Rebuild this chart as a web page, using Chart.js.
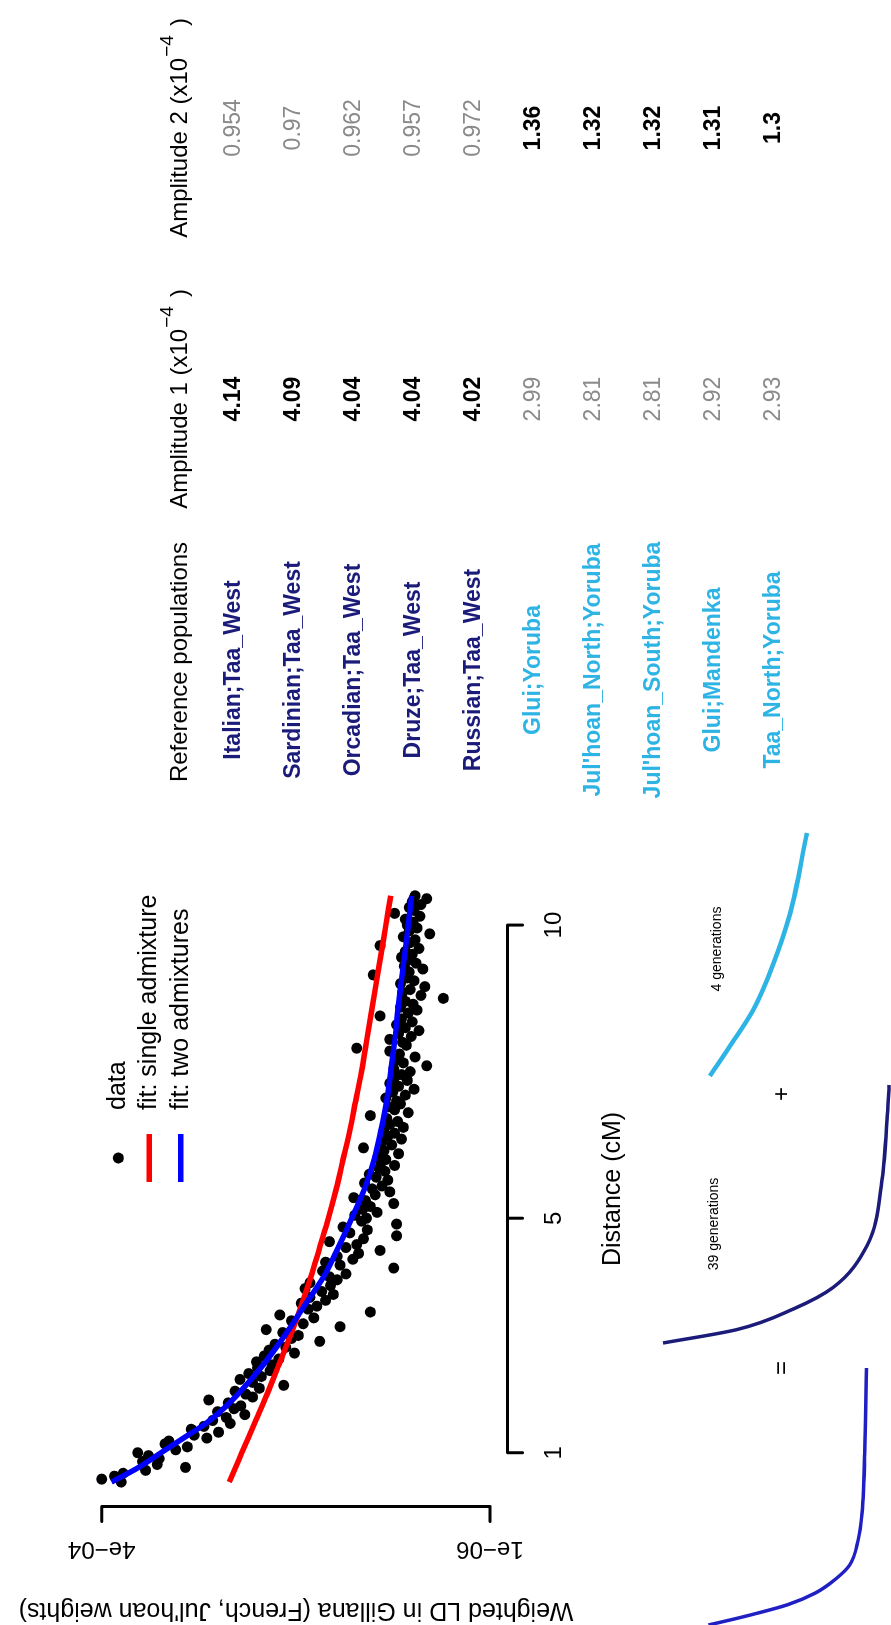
<!DOCTYPE html>
<html>
<head>
<meta charset="utf-8">
<title>Weighted LD decay</title>
<script src="https://cdn.jsdelivr.net/npm/chart.js@4.4.1/dist/chart.umd.min.js"></script>
<style>
  html, body { margin: 0; padding: 0; background: #fff; }
  body { width: 891px; height: 1625px; overflow: hidden; position: relative; }
  /* the figure is laid out landscape and turned a quarter turn */
  #figure {
    position: absolute; left: 0; top: 0;
    width: 1625px; height: 891px; overflow: hidden; background: #fff;
    transform-origin: 0 0; transform: translateY(1625px) rotate(-90deg);
  }
  #figure canvas { position: absolute; }
</style>
</head>
<body>
<div id="figure">
  <canvas id="ldChart" width="1625" height="891" style="left:0;top:0;width:1625px;height:891px"></canvas>
  <canvas id="sumCurve"></canvas>
  <canvas id="oldCurve"></canvas>
  <canvas id="recentCurve"></canvas>
</div>
<script>
// Weighted LD (x1e-4) against distance (cM)
const ldDist = [
  0.5, 0.55, 0.6, 0.65, 0.7, 0.75, 0.8, 0.85, 0.9, 0.95,
  1, 1.05, 1.1, 1.15, 1.2, 1.25, 1.3, 1.35, 1.4, 1.45,
  1.5, 1.55, 1.6, 1.65, 1.7, 1.75, 1.8, 1.85, 1.9, 1.95,
  2, 2.05, 2.1, 2.15, 2.2, 2.25, 2.3, 2.35, 2.4, 2.45,
  2.5, 2.55, 2.6, 2.65, 2.7, 2.75, 2.8, 2.85, 2.9, 2.95,
  3, 3.05, 3.1, 3.15, 3.2, 3.25, 3.3, 3.35, 3.4, 3.45,
  3.5, 3.55, 3.6, 3.65, 3.7, 3.75, 3.8, 3.85, 3.9, 3.95,
  4, 4.05, 4.1, 4.15, 4.2, 4.25, 4.3, 4.35, 4.4, 4.45,
  4.5, 4.55, 4.6, 4.65, 4.7, 4.75, 4.8, 4.85, 4.9, 4.95,
  5, 5.05, 5.1, 5.15, 5.2, 5.25, 5.3, 5.35, 5.4, 5.45,
  5.5, 5.55, 5.6, 5.65, 5.7, 5.75, 5.8, 5.85, 5.9, 5.95,
  6, 6.05, 6.1, 6.15, 6.2, 6.25, 6.3, 6.35, 6.4, 6.45,
  6.5, 6.55, 6.6, 6.65, 6.7, 6.75, 6.8, 6.85, 6.9, 6.95,
  7, 7.05, 7.1, 7.15, 7.2, 7.25, 7.3, 7.35, 7.4, 7.45,
  7.5, 7.55, 7.6, 7.65, 7.7, 7.75, 7.8, 7.85, 7.9, 7.95,
  8, 8.05, 8.1, 8.15, 8.2, 8.25, 8.3, 8.35, 8.4, 8.45,
  8.5, 8.55, 8.6, 8.65, 8.7, 8.75, 8.8, 8.85, 8.9, 8.95,
  9, 9.05, 9.1, 9.15, 9.2, 9.25, 9.3, 9.35, 9.4, 9.45,
  9.5, 9.55, 9.6, 9.65, 9.7, 9.75, 9.8, 9.85, 9.9, 9.95,
  10, 10.05, 10.1, 10.15, 10.2, 10.25, 10.3, 10.35, 10.4, 10.45,
  10.5
];
const ldValue = [
  3.80, 4.00, 3.87, 3.78, 3.55, 3.14, 3.43, 3.58, 3.41, 3.52,
  3.63, 3.24, 3.12, 3.35, 3.31, 2.92, 3.05, 2.80, 3.08, 2.95,
  2.68, 2.86, 2.72, 2.53, 2.81, 2.64, 2.57, 2.70, 2.90, 2.45,
  2.52, 2.63, 2.38, 2.13, 2.45, 2.58, 2.36, 2.49, 2.27, 2.40,
  2.25, 2.41, 2.18, 2.33, 2.02, 2.28, 2.11, 2.22, 1.76, 2.05,
  1.98, 2.14, 2.31, 1.55, 1.93, 2.05, 1.82, 2.17, 1.24, 1.88,
  1.79, 1.95, 1.70, 1.86, 1.62, 1.74, 1.91, 1.65, 1.86, 1.58,
  1.66, 1.49, 1.73, 1.00, 1.55, 1.70, 1.42, 1.58, 1.36, 1.14,
  1.49, 1.38, 1.66, 1.31, 0.97, 1.45, 1.27, 1.52, 0.97, 1.33,
  1.28, 1.40, 1.17, 1.32, 1.24, 1.00, 1.29, 1.41, 1.19, 1.04,
  1.22, 1.12, 1.30, 1.06, 1.18, 1.25, 1.09, 1.15, 0.99, 1.13,
  1.08, 1.16, 0.95, 1.10, 1.31, 1.02, 1.12, 0.92, 1.06, 0.99,
  1.10, 0.90, 1.04, 0.96, 1.07, 1.24, 0.85, 0.99, 1.05, 0.93,
  0.97, 1.08, 0.88, 1.01, 0.79, 0.95, 1.04, 0.86, 0.99, 0.92,
  0.83, 1.00, 0.66, 0.90, 0.97, 0.78, 0.94, 1.04, 1.38, 0.87,
  0.91, 1.04, 0.82, 0.95, 0.74, 0.88, 0.97, 0.81, 0.92, 1.14,
  0.85, 0.76, 0.93, 0.80, 0.88, 0.49, 0.72, 0.91, 0.83, 0.68,
  0.93, 0.79, 0.86, 1.21, 0.84, 0.70, 0.89, 0.77, 0.85, 0.92,
  0.81, 0.88, 0.74, 1.14, 0.83, 0.78, 0.90, 0.63, 0.84, 0.76,
  0.86, 0.80, 0.88, 0.73, 0.99, 0.79, 0.84, 0.72, 0.81, 0.66,
  0.78
];

// fitted curves
const singleDist = [0.5, 1, 1.5, 2, 2.5, 3, 3.5, 4, 4.5, 5, 5.5, 6, 6.5, 7, 7.5, 8, 8.5, 9, 9.5, 10, 10.5];
const singleFit = [2.69, 2.56, 2.43, 2.30, 2.18, 2.06, 1.95, 1.85, 1.76, 1.67, 1.59, 1.52, 1.45, 1.39, 1.33, 1.28, 1.23, 1.18, 1.13, 1.08, 1.03];
const twoDist = [0.5, 0.75, 1, 1.25, 1.5, 1.75, 2, 2.5, 3, 3.5, 4, 4.5, 5, 5.5, 6, 6.5, 7, 7.5, 8, 8.5, 9, 9.5, 10, 10.5];
const twoFit = [3.90, 3.62, 3.39, 3.16, 2.93, 2.75, 2.60, 2.34, 2.12, 1.92, 1.72, 1.57, 1.43, 1.30, 1.20, 1.13, 1.07, 1.03, 0.99, 0.96, 0.925, 0.885, 0.85, 0.815];

const distTicks = [1, 5, 10];
const ldTicks = [4, 0.01];
const ldTickLabels = ['4e\u221204', '1e\u221206'];

// table
const refPops = ['Italian;Taa_West', 'Sardinian;Taa_West', 'Orcadian;Taa_West', 'Druze;Taa_West', 'Russian;Taa_West',
  'Glui;Yoruba', "Jul'hoan_North;Yoruba", "Jul'hoan_South;Yoruba", 'Glui;Mandenka', 'Taa_North;Yoruba'];
const refGroup = ['west', 'west', 'west', 'west', 'west', 'south', 'south', 'south', 'south', 'south'];
const amp1 = [4.14, 4.09, 4.04, 4.04, 4.02, 2.99, 2.81, 2.81, 2.92, 2.93];
const amp2 = [0.954, 0.97, 0.962, 0.957, 0.972, 1.36, 1.32, 1.32, 1.31, 1.3];

// schematic curves (relative LD)
const oldDist = [0.5, 1.02, 1.83, 2.65, 4.27, 6.67, 9.14, 10.5];
const oldLD = [0.966, 0.653, 0.411, 0.246, 0.102, 0.040, 0.017, 0.008];
const recentDist = [0.5, 1.73, 3.2, 5.07, 7.17, 10.5];
const recentLD = [0.948, 0.843, 0.723, 0.618, 0.529, 0.440];
const sumDist = [0.5, 0.7, 0.93, 1.3, 1.75, 2.3, 2.83, 3.8, 4.84, 7.7, 10.5];
const sumLD = [0.95, 0.82, 0.68, 0.48, 0.32, 0.20, 0.12, 0.07, 0.047, 0.029, 0.021];

const FONT = '"Liberation Sans", Arial, Helvetica, sans-serif';
const NAVY = '#1b1b7a';
const CYAN = '#2db4e4';
const GREY = '#8a8a8a';

const pairs = (xs, ys) => xs.map((x, i) => ({ x: x, y: ys[i] }));

function drawText(ctx, s, x, y, font, color, align, rot) {
  ctx.save();
  ctx.font = font;
  ctx.fillStyle = color || '#000';
  ctx.textAlign = align || 'center';
  ctx.textBaseline = 'middle';
  ctx.translate(x, y);
  if (rot) ctx.rotate(rot);
  ctx.fillText(s, 0, 0);
  ctx.restore();
}

function headerWithPower(ctx, base, power, cx, cy) {
  const big = '24px ' + FONT, small = '19px ' + FONT;
  ctx.save();
  ctx.textBaseline = 'middle';
  ctx.textAlign = 'left';
  ctx.fillStyle = '#000';
  ctx.font = big;
  const w1 = ctx.measureText(base).width;
  const w3 = ctx.measureText(')').width;
  ctx.font = small;
  const w2 = ctx.measureText(power).width + 10;
  let x = cx - (w1 + w2 + w3) / 2;
  ctx.font = big; ctx.fillText(base, x, cy); x += w1;
  ctx.font = small; ctx.fillText(power, x + 1, cy - 12); x += w2;
  ctx.font = big; ctx.fillText(')', x, cy);
  ctx.restore();
}

const figureText = {
  id: 'figureText',
  afterDraw(chart) {
    const ctx = chart.ctx;
    const xs = chart.scales.x, ys = chart.scales.y, area = chart.chartArea;
    ctx.save();
    ctx.strokeStyle = '#000';
    ctx.lineWidth = 3;
    ctx.lineCap = 'round';

    // distance axis
    const axY = area.bottom + 2;
    ctx.beginPath();
    ctx.moveTo(xs.getPixelForValue(distTicks[0]), axY);
    ctx.lineTo(xs.getPixelForValue(distTicks[distTicks.length - 1]), axY);
    distTicks.forEach(t => {
      const px = xs.getPixelForValue(t);
      ctx.moveTo(px, axY);
      ctx.lineTo(px, axY + 15);
    });
    ctx.stroke();
    distTicks.forEach(t => drawText(ctx, String(t), xs.getPixelForValue(t), axY + 47, '24px ' + FONT));
    drawText(ctx, 'Distance (cM)', (area.left + area.right) / 2, 613, '25px ' + FONT);

    // LD axis
    const axX = area.left - 1;
    ctx.beginPath();
    ctx.moveTo(axX, ys.getPixelForValue(ldTicks[0]));
    ctx.lineTo(axX, ys.getPixelForValue(ldTicks[ldTicks.length - 1]));
    ldTicks.forEach(t => {
      const py = ys.getPixelForValue(t);
      ctx.moveTo(axX, py);
      ctx.lineTo(axX - 15, py);
    });
    ctx.stroke();
    ldTicks.forEach((t, i) => drawText(ctx, ldTickLabels[i], 76, ys.getPixelForValue(t), '24px ' + FONT, '#000', 'center', -Math.PI / 2));
    drawText(ctx, "Weighted LD in Gillana (French, Jul'hoan weights)", 15, (area.top + area.bottom) / 2,
      '25px ' + FONT, '#000', 'center', -Math.PI / 2);

    // legend
    const sets = chart.data.datasets;
    const legRows = [118.3, 149.3, 180.7];
    ctx.fillStyle = '#000';
    ctx.beginPath();
    ctx.arc(467, legRows[0], 5.5, 0, Math.PI * 2);
    ctx.fill();
    [1, 2].forEach(k => {
      ctx.strokeStyle = sets[k].borderColor;
      ctx.lineWidth = 5.5;
      ctx.lineCap = 'butt';
      ctx.beginPath();
      ctx.moveTo(443, legRows[k]);
      ctx.lineTo(491, legRows[k]);
      ctx.stroke();
    });
    sets.forEach((d, k) => drawText(ctx, d.label, 515, legRows[k], '25px ' + FONT, '#000', 'left'));

    // table
    const colPop = 955, colA1 = 1226, colA2 = 1497, headY = 180;
    drawText(ctx, 'Reference populations', colPop + 8, headY, '24px ' + FONT);
    headerWithPower(ctx, 'Amplitude 1 (x10', '\u22124', colA1, headY);
    headerWithPower(ctx, 'Amplitude 2 (x10', '\u22124', colA2, headY);
    refPops.forEach((name, i) => {
      const y = 233.3 + 60 * i;
      const west = refGroup[i] === 'west';
      drawText(ctx, name, colPop, y, 'bold 23px ' + FONT, west ? NAVY : CYAN);
      drawText(ctx, String(amp1[i]), colA1, y, (west ? 'bold ' : '') + '23px ' + FONT, west ? '#000' : GREY);
      drawText(ctx, String(amp2[i]), colA2, y, (west ? '' : 'bold ') + '23px ' + FONT, west ? GREY : '#000');
    });

    // schematic labels
    drawText(ctx, '4 generations', 676, 717, '14px ' + FONT);
    drawText(ctx, '39 generations', 401, 714, '14px ' + FONT);
    drawText(ctx, '+', 531, 782, '24px ' + FONT);
    drawText(ctx, '=', 257, 782, '24px ' + FONT);
    ctx.restore();
  }
};

new Chart(document.getElementById('ldChart'), {
  type: 'scatter',
  data: {
    datasets: [
      {
        label: 'data',
        data: pairs(ldDist, ldValue),
        pointRadius: 5.5,
        pointBackgroundColor: '#000',
        pointBorderWidth: 0,
        order: 3
      },
      {
        label: 'fit: single admixture',
        type: 'line',
        data: pairs(singleDist, singleFit),
        borderColor: '#ff0000',
        borderWidth: 5.5,
        pointRadius: 0,
        cubicInterpolationMode: 'monotone',
        order: 2
      },
      {
        label: 'fit: two admixtures',
        type: 'line',
        data: pairs(twoDist, twoFit),
        borderColor: '#0000ff',
        borderWidth: 5.5,
        pointRadius: 0,
        cubicInterpolationMode: 'monotone',
        order: 1
      }
    ]
  },
  options: {
    responsive: false,
    animation: false,
    devicePixelRatio: 1,
    layout: { padding: { left: 119.5, right: 872.3, top: 86.2, bottom: 385.5 } },
    scales: {
      x: { type: 'linear', min: 0.1, max: 10.9, display: false },
      y: { type: 'linear', min: -0.1496, max: 4.1596, display: false }
    },
    plugins: { legend: { display: false }, tooltip: { enabled: false } }
  },
  plugins: [figureText]
});

// little curves under the plot
function miniCurve(id, dist, ld, color, width, box) {
  const pad = 4;
  const cv = document.getElementById(id);
  const w = box.right - box.left + 2 * pad, h = box.bottom - box.top + 2 * pad;
  cv.width = w; cv.height = h;
  cv.style.left = (box.left - pad) + 'px';
  cv.style.top = (box.top - pad) + 'px';
  cv.style.width = w + 'px';
  cv.style.height = h + 'px';
  new Chart(cv, {
    type: 'line',
    data: {
      datasets: [{
        data: pairs(dist, ld),
        borderColor: color,
        borderWidth: width,
        pointRadius: 0,
        cubicInterpolationMode: 'monotone',
        clip: false
      }]
    },
    options: {
      responsive: false,
      animation: false,
      devicePixelRatio: 1,
      layout: { padding: pad },
      scales: {
        x: { type: 'linear', min: 0.5, max: 10.5, display: false },
        y: { type: 'linear', min: 0, max: 1, display: false }
      },
      plugins: { legend: { display: false }, tooltip: { enabled: false } }
    }
  });
}

miniCurve('sumCurve', sumDist, sumLD, '#1f1fc4', 3.5, { left: 0, right: 257, top: 700, bottom: 870 });
miniCurve('oldCurve', oldDist, oldLD, NAVY, 3.5, { left: 281.5, right: 540, top: 655, bottom: 891 });
miniCurve('recentCurve', recentDist, recentLD, CYAN, 4.5, { left: 549, right: 792, top: 700, bottom: 891 });
</script>
</body>
</html>
